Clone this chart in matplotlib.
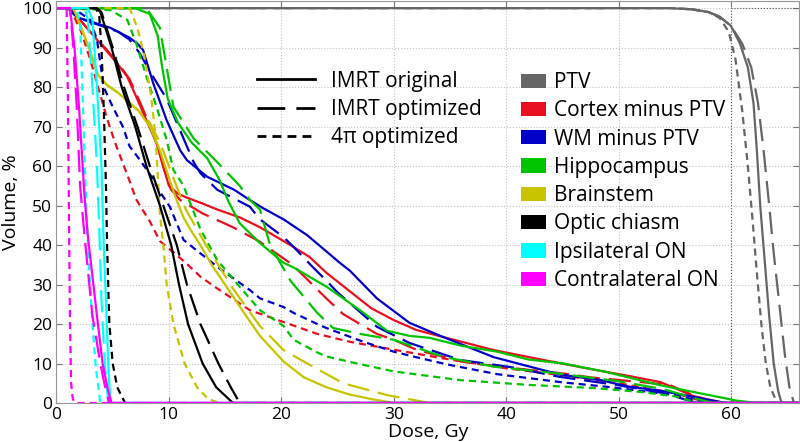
import numpy as np
import matplotlib.pyplot as plt
from matplotlib.lines import Line2D
from matplotlib.patches import Patch

plt.rcParams['font.family'] = ['Open Sans', 'DejaVu Sans']

# dose-volume histograms (dose in Gy, volume in %)
ptv_orig_d = [0, 54.5, 56.5, 58, 59, 60, 60.8, 61.5, 62.0, 62.3, 62.6, 63.0, 63.4, 63.8, 64.2, 64.5, 66]
ptv_orig_v = [100, 100, 99.7, 99, 97.8, 95.5, 91, 85, 76, 64, 50, 36, 22, 10, 3, 0, 0]
ptv_opt_d = [0, 54.5, 56.5, 58, 59, 60, 61, 61.8, 62.4, 62.9, 63.4, 63.8, 64.3, 64.8, 65.2, 65.6, 66]
ptv_opt_v = [100, 100, 99.7, 99, 97.8, 95.5, 91, 85, 76, 64, 50, 38, 25, 12, 4, 0, 0]
ptv_4pi_d = [0, 54.5, 56.5, 58, 59, 59.8, 60.4, 61.0, 61.5, 61.9, 62.3, 62.7, 63.1, 63.5, 64.1, 66]
ptv_4pi_v = [100, 100, 99.7, 99, 97.5, 94, 87, 74, 60, 47, 33, 20, 10, 4, 0, 0]

ctx_orig_d = [0, 1.2, 2.1, 3.0, 3.9, 5.4, 6.3, 7.1, 8.0, 8.9, 9.5, 10.0, 10.8, 11.6, 13, 14.3, 16.3, 18.1,
              20.8, 22.5, 24, 26, 28, 30, 32, 34.4, 38.9, 43.3, 47.7, 51, 53.7, 55, 56.6, 58.1, 59.5, 66]
ctx_orig_v = [100, 100, 97, 94, 91, 86, 82.6, 77.5, 71.6, 65.8, 59.8, 55, 53, 52, 50.5, 49, 47, 44.5,
              40, 37, 33, 28.5, 24, 21, 18.5, 16.7, 13.4, 10.9, 8.5, 6.8, 5.3, 3.8, 1.8, 0.8, 0, 0]
ctx_opt_d = [0, 1.2, 2.1, 3.0, 4.0, 5.5, 6.5, 7.3, 8.2, 9.0, 9.6, 10.2, 11.0, 13, 15.7, 18, 21, 24,
             25.5, 27, 28.5, 30, 32, 36, 40, 45, 47.5, 52, 54.6, 56.6, 58.5, 66]
ctx_opt_v = [100, 100, 97, 94, 91, 86, 82, 77, 71, 65, 59, 54, 51.4, 48, 44.5, 41, 35, 26.5,
             22.5, 20, 17.5, 16, 13.5, 10.5, 9, 7.5, 6.5, 5.3, 4.5, 2, 0, 0]
ctx_4pi_d = [0, 1.2, 2.2, 3.0, 3.8, 4.5, 5.2, 6.4, 7.1, 8.3, 9.2, 11.3, 12.8, 14.3, 17.2, 20.2, 23.2,
             26.1, 30, 35, 40, 45, 50, 55, 58, 66]
ctx_4pi_v = [100, 100, 94, 87, 79, 72, 66, 57, 51.5, 46, 41, 36, 32, 29, 23.5, 20.5, 17.5,
             15.5, 13.5, 11, 8.8, 7, 5, 2.5, 0, 0]

wm_orig_d = [0, 1.0, 1.8, 3.7, 4.8, 6.5, 7.2, 7.7, 8.6, 9.8, 11.0, 11.6, 13.4, 15.8, 17.2, 18.4, 20.2,
             22.3, 25.2, 26.1, 28.5, 31.4, 34.4, 38.9, 44.8, 48.4, 50.8, 54, 56.6, 59.5, 66]
wm_orig_v = [100, 100, 97.7, 96, 95, 92.5, 91, 89.4, 81, 71.6, 64, 61.5, 57.3, 54, 51.4, 49.3, 46.5,
             42.5, 35.5, 33.5, 26.5, 20.3, 16.7, 11.6, 7.2, 5.8, 4.2, 3, 1.6, 0, 0]
wm_opt_d = [0, 1.0, 2.0, 4.0, 5.5, 6.5, 7.4, 8.3, 9.8, 11.3, 12.2, 12.8, 14.3, 17.2, 18.1, 20.2, 21.1,
            22.6, 24, 25, 26.1, 28.5, 31.4, 35.9, 40.4, 44.8, 50, 54, 57, 66]
wm_opt_v = [100, 100, 97.5, 95.5, 94, 92, 88.6, 84, 77, 67, 61, 58.2, 54, 49.7, 46.5, 42, 39.5,
            35, 31, 28, 25.3, 19.3, 15.2, 10.9, 9.1, 6.6, 4.5, 2.5, 0, 0]
wm_4pi_d = [0, 1.5, 3.0, 3.6, 4.2, 5.0, 5.9, 6.5, 7.3, 8.3, 9.2, 10.1, 11.3, 14.3, 17.2, 18.1, 20.2,
            21.1, 23.2, 24, 27.3, 30, 31.7, 34.7, 39.2, 45.1, 49, 55, 58, 66]
wm_4pi_v = [100, 100, 97, 92, 80, 75, 70, 65, 62, 58, 53.5, 49.6, 41.3, 34.5, 28.6, 26.5, 24.3,
            22.8, 20, 19, 15.5, 13, 11.8, 9.8, 7.3, 5.2, 4.1, 2, 0, 0]

hip_orig_d = [0, 7.0, 8.3, 9.0, 9.4, 9.9, 10.8, 12.0, 13.4, 14.5, 15.3, 16.3, 18.1, 20.2, 21.1, 23.2,
              24, 27, 29.4, 31.4, 33.2, 36, 39.2, 42, 45.1, 49, 53.7, 57, 59.3, 60.5, 62.3, 66]
hip_orig_v = [100, 100, 98.5, 93, 85, 77, 71, 66, 62, 56.5, 51, 45.5, 40.5, 35.5, 34.3, 30.8,
              29.5, 23.5, 18.3, 17, 16.5, 14.5, 13, 11, 10, 7.8, 4.5, 2.6, 1.3, 0.6, 0, 0]
hip_opt_d = [0, 8.0, 9.2, 9.8, 10.4, 12.2, 14.3, 16.3, 17.2, 18.1, 19.0, 20.8, 23.2, 24.6, 27, 30,
             34.4, 38.9, 44.8, 50, 54, 57, 58.5, 66]
hip_opt_v = [100, 100, 95, 85, 75, 67, 61, 55, 51.4, 49, 40, 31, 22.8, 19, 17.5, 16,
             11.7, 9.2, 7.4, 5.5, 3.5, 1, 0, 0]
hip_4pi_d = [0, 4.8, 6.3, 7.1, 8.0, 8.9, 9.8, 10.4, 11.3, 12.8, 14.3, 16.3, 18.1, 20.2, 21.1, 23.2,
             24, 26.1, 30, 35.9, 41.9, 47.7, 52, 55.2, 57, 66]
hip_4pi_v = [100, 99.5, 97, 91, 82.6, 75, 66.6, 59, 55, 44, 36.2, 29.4, 23.5, 19.5, 16, 12.8,
             11.8, 10.4, 8, 5.8, 4.6, 3.8, 2.8, 1.6, 0, 0]

bst_orig_d = [0, 1.5, 2.2, 3.0, 3.7, 4.5, 5.5, 6.5, 7.3, 8.3, 9.2, 10.0, 10.6, 11.3, 12.0, 12.8,
              13.8, 15.7, 17.0, 18.1, 20.2, 22, 24, 26, 28, 30, 66]
bst_orig_v = [100, 100, 95, 89, 83, 80.5, 78.5, 76, 74, 70, 64, 57, 52, 47, 43.5, 40,
              35, 27, 21.5, 17, 10.5, 6.5, 4, 2.2, 1, 0, 0]
bst_opt_d = [0, 1.5, 2.2, 3.0, 3.7, 4.5, 5.5, 6.5, 7.3, 8.3, 9.2, 10.0, 10.8, 11.5, 12.3, 13.3,
             14.3, 15.7, 17.2, 18.1, 20.2, 22, 25.5, 29.4, 33.2, 66]
bst_opt_v = [100, 100, 95, 89, 83, 80.5, 78.5, 76, 74, 71, 66, 60, 54, 49, 45, 40,
             35.4, 29, 23, 19.5, 13.4, 10.5, 5, 2, 0, 0]
bst_4pi_d = [0, 6.5, 7.2, 7.8, 8.4, 8.8, 9.0, 9.2, 9.5, 9.8, 10.4, 11.4, 12.5, 13.5, 14.5, 66]
bst_4pi_v = [100, 100, 95, 88, 78, 68, 58, 48, 40, 30, 20, 10, 4, 1, 0, 0]

och_orig_d = [0, 3.5, 3.9, 4.9, 5.8, 7.0, 8.0, 9.2, 10.2, 10.9, 11.7, 13.0, 14.2, 15.7, 66]
och_orig_v = [100, 100, 99, 90, 80, 70, 60, 50, 40, 30, 20, 10, 4, 0, 0]
och_opt_d = [0, 3.6, 4.0, 5.0, 6.0, 7.2, 8.3, 9.5, 10.7, 11.6, 12.8, 14.4, 15.5, 16.3, 66]
och_opt_v = [100, 100, 99, 90, 80, 70, 60, 50, 40, 30, 20, 10, 4, 0, 0]
och_4pi_d = [0, 3.5, 3.8, 4.0, 4.2, 4.4, 4.5, 4.7, 5.0, 5.4, 6.1, 66]
och_4pi_v = [100, 100, 98, 90, 75, 55, 40, 20, 10, 4, 0, 0]

ion_orig_d = [0, 2.8, 3.2, 3.6, 4.0, 4.2, 4.4, 4.6, 4.8, 66]
ion_orig_v = [100, 100, 97, 80, 60, 40, 26, 10, 0, 0]
ion_opt_d = [0, 2.5, 2.8, 3.2, 3.6, 3.85, 4.0, 4.3, 4.6, 66]
ion_opt_v = [100, 100, 97, 80, 60, 40, 26, 10, 0, 0]
ion_4pi_d = [0, 1.8, 2.1, 2.3, 2.5, 2.7, 2.9, 3.2, 3.5, 3.9, 66]
ion_4pi_v = [100, 100, 96, 80, 62, 46, 34, 20, 9, 0, 0]

con_orig_d = [0, 1.2, 1.6, 2.0, 2.5, 2.8, 3.6, 4.1, 4.6, 4.9, 66]
con_orig_v = [100, 100, 90, 75, 52, 42, 22, 10, 3, 0, 0]
con_opt_d = [0, 1.2, 1.5, 1.8, 2.1, 2.5, 3.2, 3.9, 4.4, 4.7, 66]
con_opt_v = [100, 100, 90, 75, 55, 42, 22, 10, 3, 0, 0]
con_4pi_d = [0, 0.9, 1.0, 1.1, 1.2, 1.3, 1.45, 1.7, 66]
con_4pi_v = [100, 100, 80, 50, 20, 5, 1, 0, 0]

structures = ['PTV', 'Cortex minus PTV', 'WM minus PTV', 'Hippocampus', 'Brainstem',
              'Optic chiasm', 'Ipsilateral ON', 'Contralateral ON']
colors = ['#666666', '#e8101e', '#0000c8', '#00c400', '#c8c400', '#000000', '#00ffff', '#ff00ff']
plans = ['IMRT original', 'IMRT optimized', '4\u03c0 optimized']
rx_dose = 60

curves = [
    [(ptv_orig_d, ptv_orig_v), (ptv_opt_d, ptv_opt_v), (ptv_4pi_d, ptv_4pi_v)],
    [(ctx_orig_d, ctx_orig_v), (ctx_opt_d, ctx_opt_v), (ctx_4pi_d, ctx_4pi_v)],
    [(wm_orig_d, wm_orig_v), (wm_opt_d, wm_opt_v), (wm_4pi_d, wm_4pi_v)],
    [(hip_orig_d, hip_orig_v), (hip_opt_d, hip_opt_v), (hip_4pi_d, hip_4pi_v)],
    [(bst_orig_d, bst_orig_v), (bst_opt_d, bst_opt_v), (bst_4pi_d, bst_4pi_v)],
    [(och_orig_d, och_orig_v), (och_opt_d, och_opt_v), (och_4pi_d, och_4pi_v)],
    [(ion_orig_d, ion_orig_v), (ion_opt_d, ion_opt_v), (ion_4pi_d, ion_4pi_v)],
    [(con_orig_d, con_orig_v), (con_opt_d, con_opt_v), (con_4pi_d, con_4pi_v)],
]

styles = [dict(ls='-'), dict(ls=(0, (10, 4))), dict(ls=(0, (3.2, 2.2)))]
lw = 1.6

fig = plt.figure(figsize=(8, 4.42), dpi=100)
ax = fig.add_axes([56.5 / 800, 39 / 442, 742.5 / 800, 402 / 442])

ax.axvline(rx_dose, ymax=100 / 101.8, color='#555555', ls=':', lw=0.8, zorder=1)
ax.hlines(100, rx_dose, 66.05, color='#555555', ls=':', lw=0.8, zorder=1)

for struct, col in zip(curves, colors):
    for (d, v), st in zip(struct, styles):
        ax.plot(d, v, color=col, lw=lw, **st, zorder=2)

ax.set_xlim(0, 66.05)
ax.set_ylim(0, 101.8)
ax.set_xticks(np.arange(0, 61, 10))
ax.set_yticks(np.arange(0, 101, 10))
ax.grid(True, ls=':', color='#c4c4c4', lw=0.8)
ax.set_axisbelow(True)
ax.tick_params(direction='in', length=4, color='#777777', labelsize=12.5, pad=3,
               top=True, right=True)
for s in ax.spines.values():
    s.set_color('#999999')
    s.set_linewidth(0.8)

ax.set_xlabel('Dose, Gy', fontsize=14, labelpad=0)
ax.set_ylabel('Volume, %', fontsize=14, labelpad=2)

style_handles = [Line2D([], [], color='k', lw=2, **st) for st in styles]
leg1 = ax.legend(style_handles, plans, loc='upper left', bbox_to_anchor=(257 / 800, 1 - 70.5 / 442),
                 bbox_transform=fig.transFigure, frameon=False, fontsize=15,
                 handlelength=2.8, handletextpad=0.75, labelspacing=0.35, borderpad=0,
                 borderaxespad=0)
ax.add_artist(leg1)

color_handles = [Patch(facecolor=c, edgecolor='none') for c in colors]
ax.legend(color_handles, structures, loc='upper left', bbox_to_anchor=(521 / 800, 1 - 72 / 442),
          bbox_transform=fig.transFigure, frameon=False, fontsize=15,
          handlelength=1.2, handleheight=0.68, handletextpad=0.38, labelspacing=0.35,
          borderpad=0, borderaxespad=0)

fig.savefig('out.png', dpi=100)
